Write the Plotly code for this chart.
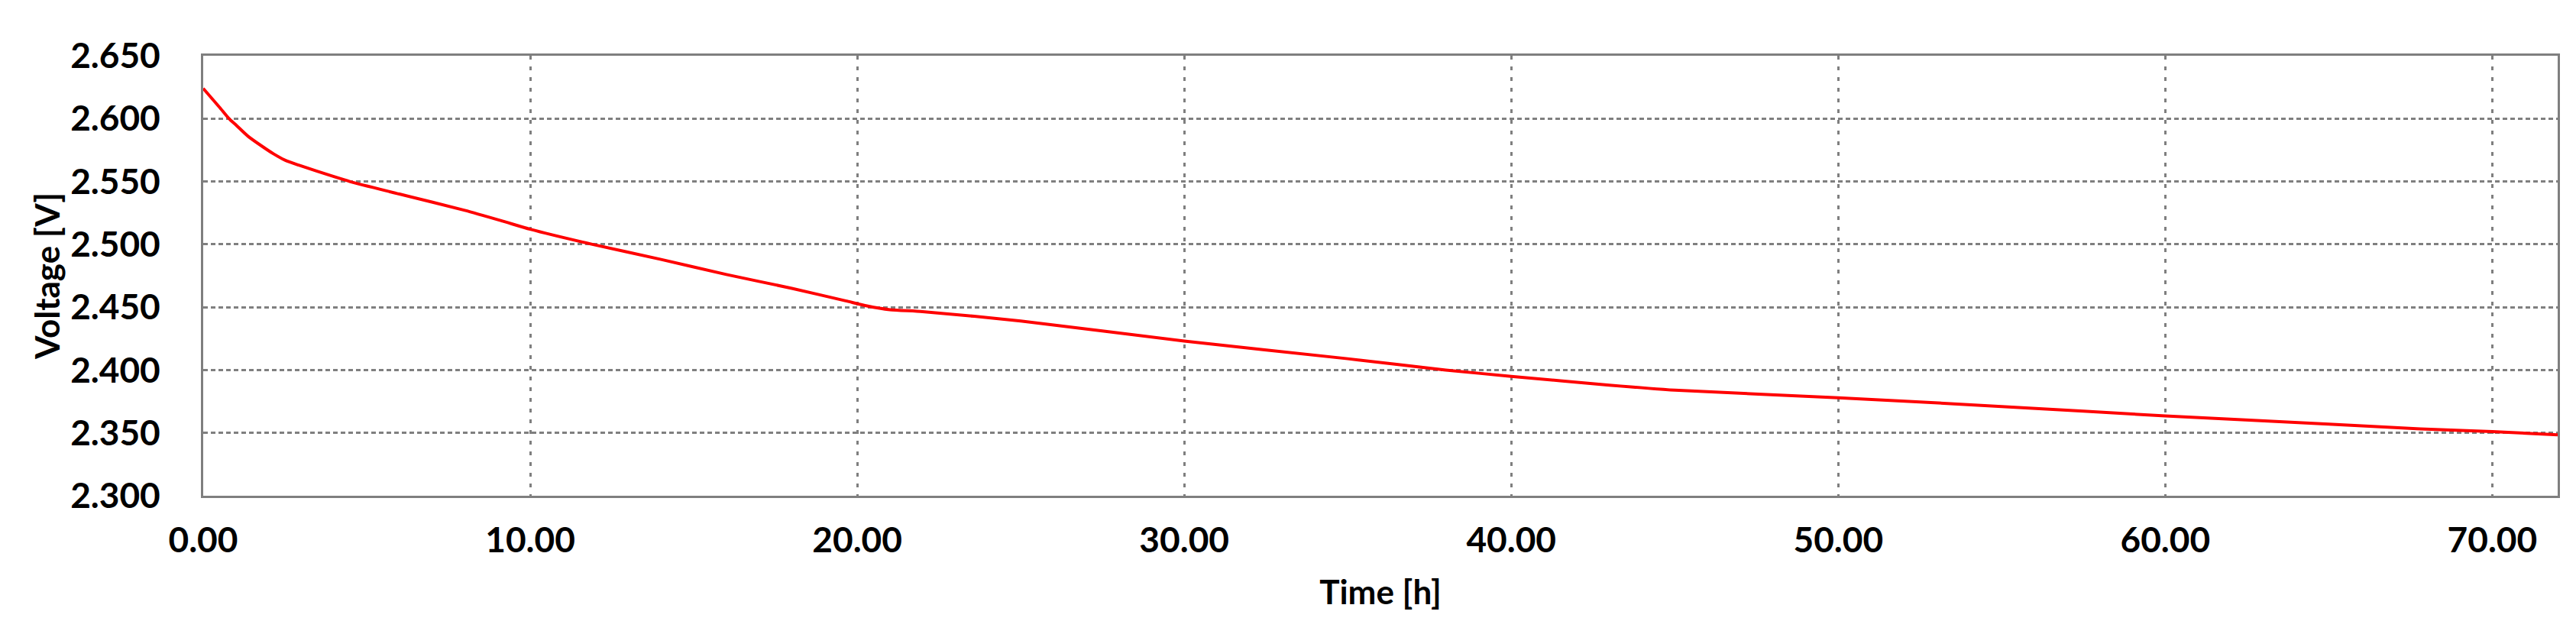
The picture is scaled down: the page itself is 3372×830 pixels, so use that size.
import plotly.graph_objects as go

# time [h] and voltage [V]
time_h = [0.0, 0.5, 0.79, 1.0, 1.37, 1.8, 2.15, 2.5, 2.92, 3.5, 4.48, 6.0, 8.0,
          9.15, 10.0, 11.9, 14.0, 16.0, 18.0, 19.65, 20.3, 21.0, 22.0, 25.0,
          30.0, 35.0, 38.0, 40.0, 43.0, 45.0, 50.0, 55.0, 60.0, 65.0, 67.8,
          70.0, 72.0]
voltage_v = [2.624, 2.609, 2.600, 2.595, 2.586, 2.578, 2.572, 2.567, 2.563,
             2.558, 2.550, 2.540, 2.527, 2.5185, 2.512, 2.500, 2.488, 2.476,
             2.465, 2.455, 2.451, 2.448, 2.4465, 2.439, 2.423, 2.409, 2.400,
             2.395, 2.388, 2.384, 2.378, 2.371, 2.3635, 2.357, 2.3532, 2.351,
             2.3485]

FONT = "Lato"
GRID = "#7f7f7f"

fig = go.Figure(
    go.Scatter(
        x=time_h,
        y=voltage_v,
        mode="lines",
        line=dict(color="#ff0000", width=4, shape="spline", smoothing=0.6),
        showlegend=False,
    )
)

fig.update_layout(
    width=3372,
    height=830,
    margin=dict(l=258, r=32, t=65, b=189),
    paper_bgcolor="white",
    plot_bgcolor="white",
    font=dict(family=FONT, color="black", size=46, weight="bold"),
)

fig.update_xaxes(
    range=[0, 72],
    dtick=10,
    tick0=0,
    tickformat=".2f",
    showgrid=True,
    gridcolor=GRID,
    gridwidth=2.5,
    griddash="5px,9px",
    showline=True,
    mirror=True,
    linecolor=GRID,
    linewidth=3,
    zeroline=False,
    ticks="",
    ticklabelstandoff=16,
    tickfont=dict(family=FONT, size=46, weight="bold"),
    title=dict(text="Time [h]", font=dict(family=FONT, size=44, weight="bold"), standoff=28),
)
fig.update_yaxes(
    range=[2.3, 2.65],
    dtick=0.05,
    tick0=2.3,
    tickformat=".3f",
    showgrid=True,
    gridcolor=GRID,
    gridwidth=2.5,
    griddash="6px,4px",
    showline=True,
    mirror=True,
    linecolor=GRID,
    linewidth=3,
    zeroline=False,
    ticks="",
    ticklabelstandoff=44,
    tickfont=dict(family=FONT, size=46, weight="bold"),
    title=dict(text="Voltage [V]", font=dict(family=FONT, size=44, weight="bold"), standoff=0),
)

fig.write_html("out.html")
